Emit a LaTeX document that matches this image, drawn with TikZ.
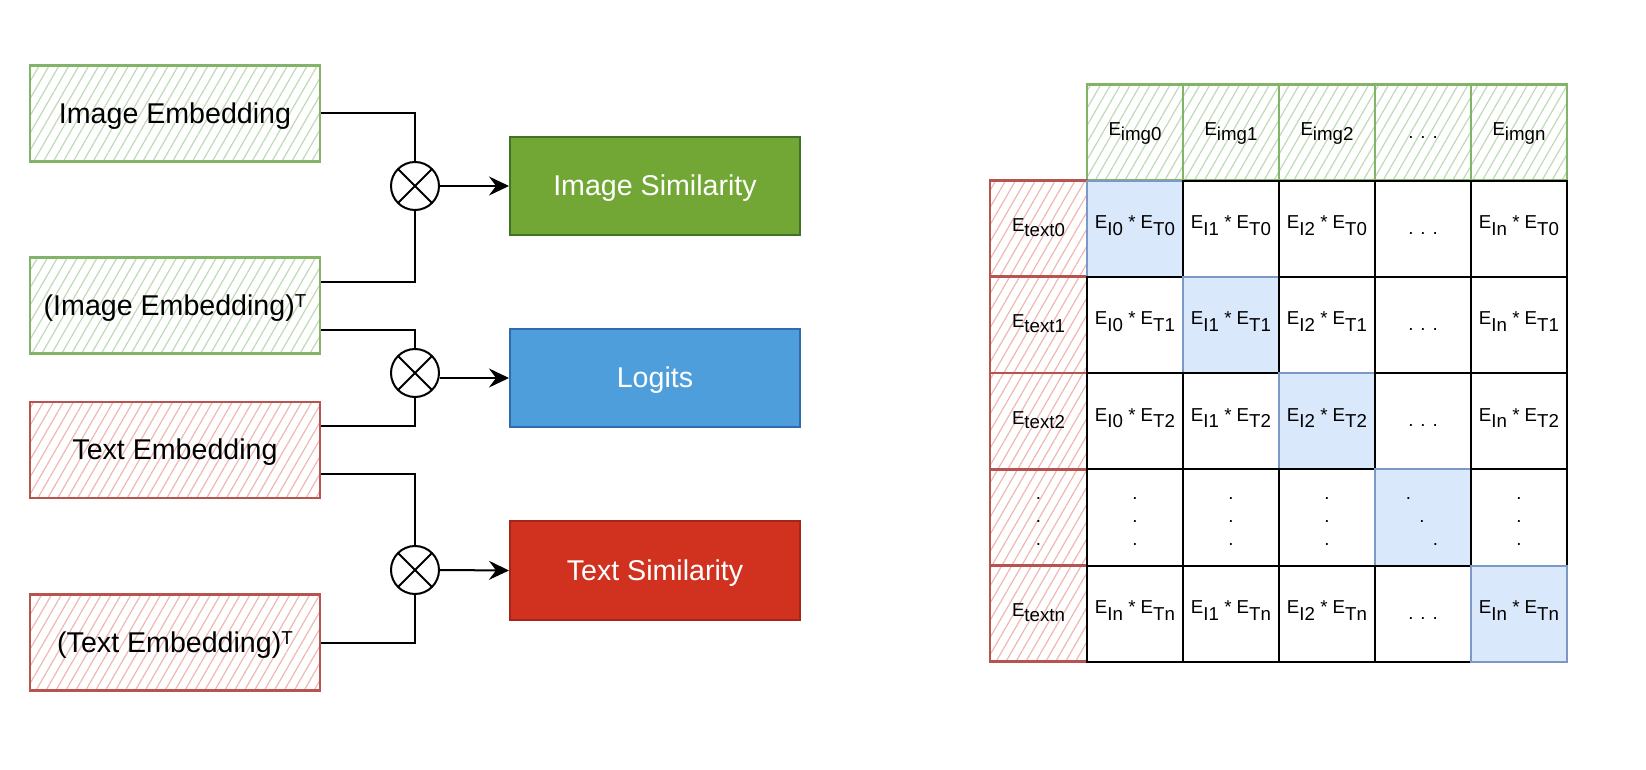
\documentclass[tikz,border=0pt]{standalone}
\usepackage{fontspec}
\setmainfont{Liberation Sans}
\usetikzlibrary{arrows.meta,patterns.meta,calc}
\definecolor{skgreen}{HTML}{82B366}
\definecolor{hatchgreen}{HTML}{BFDAB4}
\definecolor{skred}{HTML}{B85450}
\definecolor{hatchred}{HTML}{EFB7B2}
\definecolor{simgreen}{HTML}{72A736}
\definecolor{simgreenline}{HTML}{3F7426}
\definecolor{logblue}{HTML}{4D9EDB}
\definecolor{logblueline}{HTML}{2F6DAA}
\definecolor{simred}{HTML}{D1321F}
\definecolor{simredline}{HTML}{A52519}
\definecolor{cellblue}{HTML}{DAE8FC}
\definecolor{cellblueline}{HTML}{7C98C6}
\newcommand{\bigfont}{\fontsize{14.3pt}{17pt}\selectfont}
\newcommand{\cellfont}{\fontsize{9.35pt}{11.5pt}\selectfont}
\newcommand{\supT}{\raisebox{4pt}{\cellfont T}}
\newcommand{\lo}[1]{\raisebox{-3.2pt}{#1}}
\newcommand{\hlo}[1]{\raisebox{-2.4pt}{#1}}
\tikzset{
  hatchg/.style={draw=skgreen, line width=1.4pt, pattern={Lines[angle=60,distance=4.3pt,line width=0.6pt]}, pattern color=hatchgreen},
  hatchr/.style={draw=skred, line width=1.4pt, pattern={Lines[angle=60,distance=4.3pt,line width=0.6pt]}, pattern color=hatchred},
  embbox/.style={rectangle, minimum width=145pt, minimum height=48pt, inner sep=0pt, font=\bigfont, text height=10.2pt, text depth=0.2pt},
  outbox/.style={rectangle, minimum width=145pt, minimum height=49pt, inner sep=0pt, font=\bigfont, text=white, line width=1pt, text height=10.2pt, text depth=0.2pt},
  mult/.style={circle, draw, line width=1pt, minimum size=24pt, inner sep=0pt,
    path picture={\draw[line width=1pt] (path picture bounding box.south west) -- (path picture bounding box.north east)
      (path picture bounding box.north west) -- (path picture bounding box.south east);}},
  wire/.style={line width=1pt},
  arr/.style={line width=1pt, -{Stealth[length=10pt,width=9.5pt,inset=3.5pt]}},
  cellw/.style={rectangle, draw=black, fill=white, line width=1pt, minimum width=48pt, minimum height=48.1pt,
    inner sep=0pt, font=\cellfont, text height=5pt, text depth=5pt},
  cellb/.style={cellw, draw=cellblueline, fill=cellblue},
  dotcell/.style={text height=7pt, text depth=1.5pt},
  hdrg/.style={hatchg, rectangle, minimum width=48pt, minimum height=48.1pt, inner sep=0pt, font=\cellfont, text height=6.5pt, text depth=3.5pt},
  hdrr/.style={hatchr, rectangle, minimum width=48.5pt, minimum height=48.1pt, inner sep=0pt, font=\cellfont, text height=6.5pt, text depth=3.5pt},
  dotnode/.style={font=\cellfont, anchor=base, inner sep=0pt},
}
\begin{document}
\begin{tikzpicture}[x=0.5pt,y=-0.5pt]
\useasboundingbox (0,0) rectangle (1646,770);
% left embedding boxes
\node[embbox, hatchg] (ie)  at (175,113.5) {Image Embedding};
\node[embbox, hatchg] (iet) at (175,305.5) {(Image Embedding)\supT};
\node[embbox, hatchr] (te)  at (175,450)   {Text Embedding};
\node[embbox, hatchr] (tet) at (175,642.5) {(Text Embedding)\supT};
% multiplication circles
\node[mult] (m1) at (415,186) {};
\node[mult] (m2) at (415,373) {};
\node[mult] (m3) at (415,570) {};
% output boxes
\node[outbox, fill=simgreen, draw=simgreenline] (is) at (655,186)   {Image Similarity};
\node[outbox, fill=logblue, draw=logblueline]   (lg) at (655,378)   {Logits};
\node[outbox, fill=simred, draw=simredline]     (ts) at (655,570.5) {Text Similarity};
% wires
\draw[wire] (ie.east) -| (m1.north);
\draw[wire] ($(iet.east)+(0,-23.5)$) -| (m1.south);
\draw[wire] ($(iet.east)+(0,24.5)$) -| (m2.north);
\draw[wire] ($(te.east)+(0,-24)$) -| (m2.south);
\draw[wire] ($(te.east)+(0,24)$) -| (m3.north);
\draw[wire] (tet.east) -| (m3.south);
\draw[arr] (m1.east) -- (is.west);
\draw[arr] (m2.east |- lg.west) -- (lg.west);
\draw[arr] (m3.east) -- (ts.west);
% matrix header row
\node[hdrg] (h0) at (1135,132.6) {E\hlo{img0}};
\node[hdrg] (h1) at (1231,132.6) {E\hlo{img1}};
\node[hdrg] (h2) at (1327,132.6) {E\hlo{img2}};
\node[hdrg, dotcell] (h3) at (1423,132.6) {. . .};
\node[hdrg] (h4) at (1519,132.6) {E\hlo{imgn}};
% matrix header column
\node[hdrr] (r0) at (1038.5,228.8) {E\hlo{text0}};
\node[hdrr] (r1) at (1038.5,325.0) {E\hlo{text1}};
\node[hdrr] (r2) at (1038.5,421.2) {E\hlo{text2}};
\node[hdrr] (r3) at (1038.5,517.4) {};
\node[hdrr] (r4) at (1038.5,613.6) {E\hlo{textn}};
% row 0
\node[cellb] (b00) at (1135,228.8) {E\lo{I0} * E\lo{T0}};
\node[cellw] (b01) at (1231,228.8) {E\lo{I1} * E\lo{T0}};
\node[cellw] (b02) at (1327,228.8) {E\lo{I2} * E\lo{T0}};
\node[cellw, dotcell] (b03) at (1423,228.8) {. . .};
\node[cellw] (b04) at (1519,228.8) {E\lo{In} * E\lo{T0}};
% row 1
\node[cellw] (b10) at (1135,325.0) {E\lo{I0} * E\lo{T1}};
\node[cellb] (b11) at (1231,325.0) {E\lo{I1} * E\lo{T1}};
\node[cellw] (b12) at (1327,325.0) {E\lo{I2} * E\lo{T1}};
\node[cellw, dotcell] (b13) at (1423,325.0) {. . .};
\node[cellw] (b14) at (1519,325.0) {E\lo{In} * E\lo{T1}};
% row 2
\node[cellw] (b20) at (1135,421.2) {E\lo{I0} * E\lo{T2}};
\node[cellw] (b21) at (1231,421.2) {E\lo{I1} * E\lo{T2}};
\node[cellb] (b22) at (1327,421.2) {E\lo{I2} * E\lo{T2}};
\node[cellw, dotcell] (b23) at (1423,421.2) {. . .};
\node[cellw] (b24) at (1519,421.2) {E\lo{In} * E\lo{T2}};
% row 3
\node[cellw] (b30) at (1135,517.4) {};
\node[cellw] (b31) at (1231,517.4) {};
\node[cellw] (b32) at (1327,517.4) {};
\node[cellb] (b33) at (1423,517.4) {};
\node[cellw] (b34) at (1519,517.4) {};
% row 4
\node[cellw] (b40) at (1135,613.6) {E\lo{In} * E\lo{Tn}};
\node[cellw] (b41) at (1231,613.6) {E\lo{I1} * E\lo{Tn}};
\node[cellw] (b42) at (1327,613.6) {E\lo{I2} * E\lo{Tn}};
\node[cellw, dotcell] (b43) at (1423,613.6) {. . .};
\node[cellb] (b44) at (1519,613.6) {E\lo{In} * E\lo{Tn}};
% vertical dots
\foreach \x/\n in {1038.5/r, 1135/c0, 1231/c1, 1327/c2, 1519/c4}{
  \node[dotnode] (\n-d1) at (\x,499.5) {.};
  \node[dotnode] (\n-d2) at (\x,522.5) {.};
  \node[dotnode] (\n-d3) at (\x,545.5) {.};
}
% diagonal dots
\node[dotnode] (dg1) at (1408.5,499.5) {.};
\node[dotnode] (dg2) at (1422,522.5) {.};
\node[dotnode] (dg3) at (1435.5,545.5) {.};
\end{tikzpicture}
\end{document}
